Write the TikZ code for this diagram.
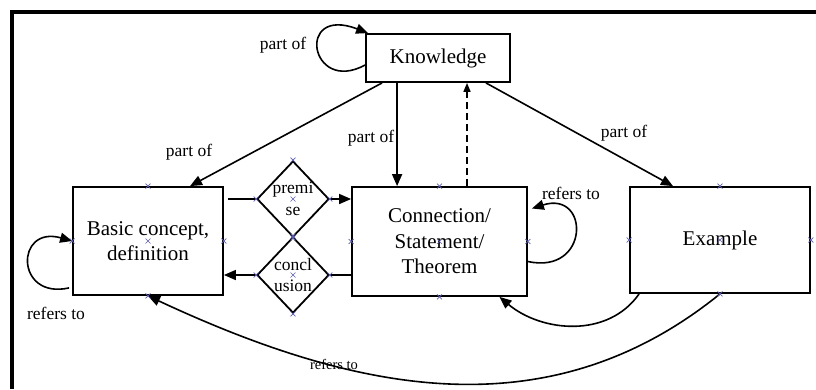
\documentclass[tikz,border=0pt]{standalone}
\usepackage{fontspec}
\setmainfont{Liberation Serif}
\usetikzlibrary{shapes.geometric,arrows.meta,calc}
\definecolor{xblue}{RGB}{95,95,175}
\begin{document}
\begin{tikzpicture}[x=1pt,y=1pt,
  box/.style={draw,line width=1.8pt,rectangle,inner sep=0pt,align=center,font=\fontsize{21}{25.5}\selectfont},
  dia/.style={draw,line width=1.8pt,diamond,inner sep=0pt,minimum width=72pt,minimum height=76pt},
  diatext/.style={font=\fontsize{17.5}{21.5}\selectfont,align=center,inner sep=0pt},
  conn/.style={line width=1.6pt},
  arr/.style={conn,-{Triangle[length=12pt,width=10pt]}},
  lbl/.style={font=\fontsize{17.5}{21}\selectfont,inner sep=0pt},
  smalllbl/.style={font=\fontsize{14.5}{17}\selectfont,inner sep=0pt},
  xmark/.style={xblue,line width=0.6pt}]
\useasboundingbox (0,0) rectangle (816,-389);
\fill[white] (0,0) rectangle (816,-389);
\draw[line width=4pt] (12,-389) -- (12,-12) -- (816,-12);

\node[box,minimum width=144pt,minimum height=48pt] (know) at (438,-58) {Knowledge};
\node[box,minimum width=150pt,minimum height=108pt] (basic) at (148,-241) {Basic concept,\\definition};
\node[box,minimum width=175pt,minimum height=109pt] (conn) at (439.5,-241.5) {Connection/\\Statement/\\Theorem};
\node[box,minimum width=180pt,minimum height=106pt] (ex) at (720,-240) {Example};
\node[dia] (prem) at (293,-199) {};
\node[dia] (conc) at (293,-275) {};
\node[diatext] (premt) at (prem.center) {premi\\se};
\node[diatext] (conct) at (conc.center) {concl\\usion};

% premise / conclusion
\draw[conn] ($(basic.east|-prem.west)+(4,0)$) -- (prem.west);
\draw[arr] (prem.east) -- (conn.west|-prem.east);
\draw[conn] (conn.west|-conc.east) -- (conc.east);
\draw[arr] (conc.west) -- (basic.east|-conc.west);

% part of
\draw[arr] ($(know.south west)+(17,0)$) -- ($(basic.north)+(42,0)$);
\draw[arr] ($(know.south west)+(32,0)$) coordinate (k2) -- (k2|-conn.north);
\draw[conn,dashed,dash pattern=on 7pt off 4pt,-{Triangle[length=9pt,width=7pt]}] ($(conn.north)+(27.5,0)$) coordinate (c2) -- (c2|-know.south);
\draw[arr] ($(know.south east)+(-25,0)$) -- ($(ex.north)+(-47,0)$);

\node[lbl] (l1) at (189,-152) {part of};
\node[lbl] (l2) at (371,-138) {part of};
\node[lbl] (l3) at (624,-133) {part of};

% self loops
\draw[arr] ($(know.west)+(0,-7)$) .. controls (310,-95) and (295,-5) .. ($(know.north west)+(3,0)$);
\node[lbl] (l4) at (283,-45) {part of};
\draw[arr] ($(conn.east)+(0,-20)$) .. controls (590,-275) and (590,-190) .. ($(conn.east)+(4,33)$);
\node[lbl] (l5) at (571,-193) {refers to};
\draw[arr] ($(basic.south west)+(-3,8)$) .. controls (15,-300) and (15,-225) .. (basic.west);
\node[lbl] (l6) at (56,-313) {refers to};

% refers to curves
\draw[arr] ($(ex.south west)+(10,0)$) to[out=-125,in=-40] ($(conn.south)+(60,0)$);
\draw[arr] (ex.south) to[out=-141,in=-25] (basic.south);
\node[smalllbl] (l7) at (334,-364) {refers to};

% connection point marks
\foreach \n in {basic,conn,ex,prem,conc}{
  \foreach \a in {north,south,east,west,center}{
    \draw[xmark] ($(\n.\a)+(-2.5,-2.5)$) -- ($(\n.\a)+(2.5,2.5)$);
    \draw[xmark] ($(\n.\a)+(-2.5,2.5)$) -- ($(\n.\a)+(2.5,-2.5)$);
  }
}
\end{tikzpicture}
\end{document}
